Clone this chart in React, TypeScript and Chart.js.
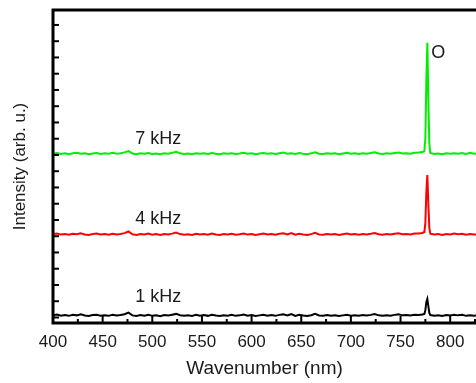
import React, { useEffect, useRef } from "react";
import { Chart, registerables } from "chart.js";

Chart.register(...registerables);

const wavelengths = [
  400, 404, 408, 412, 416, 420, 424, 428, 432, 436,
  440, 444, 448, 452, 456, 460, 464, 468, 472, 476,
  480, 484, 488, 492, 496, 500, 504, 508, 512, 516,
  520, 524, 528, 532, 536, 540, 544, 548, 552, 556,
  560, 564, 568, 572, 576, 580, 584, 588, 592, 596,
  600, 604, 608, 612, 616, 620, 624, 628, 632, 636,
  640, 644, 648, 652, 656, 660, 664, 668, 672, 676,
  680, 684, 688, 692, 696, 700, 704, 708, 712, 716,
  720, 724, 728, 732, 736, 740, 744, 748, 752, 756,
  760, 764, 768, 772,
  774, 775, 776, 777, 778, 779, 780,
  784, 788, 792, 796, 800, 804, 808, 812, 816, 820, 824, 828,
];

const intensity1kHz = [
  0.14, 0.18, 0.11, 0.15, 0.10, 0.16, 0.13, 0.19, 0.12, 0.09,
  0.15, 0.17, 0.11, 0.14, 0.10, 0.16, 0.12, 0.15, 0.20, 0.30,
  0.13, 0.09, 0.15, 0.11, 0.17, 0.10, 0.14, 0.08, 0.15, 0.12,
  0.17, 0.22, 0.14, 0.10, 0.13, 0.09, 0.16, 0.11, 0.15, 0.10,
  0.17, 0.12, 0.09, 0.14, 0.11, 0.16, 0.10, 0.13, 0.18, 0.11,
  0.15, 0.09, 0.13, 0.17, 0.11, 0.15, 0.10, 0.16, 0.19, 0.12,
  0.21, 0.10, 0.16, 0.12, 0.09, 0.14, 0.22, 0.12, 0.10, 0.15,
  0.11, 0.14, 0.09, 0.13, 0.17, 0.11, 0.14, 0.10, 0.15, 0.12,
  0.16, 0.21, 0.13, 0.10, 0.14, 0.11, 0.16, 0.19, 0.13, 0.15,
  0.12, 0.17, 0.16, 0.18,
  0.22, 0.45, 0.95, 1.14, 0.70, 0.28, 0.15,
  0.11, 0.14, 0.09, 0.15, 0.12, 0.17, 0.13, 0.16, 0.10, 0.14, 0.11, 0.13,
];

const intensity4kHz = [
  5.13, 5.17, 5.10, 5.14, 5.09, 5.15, 5.12, 5.18, 5.11, 5.08,
  5.14, 5.16, 5.10, 5.13, 5.09, 5.15, 5.11, 5.14, 5.19, 5.29,
  5.12, 5.08, 5.14, 5.10, 5.16, 5.09, 5.13, 5.07, 5.14, 5.11,
  5.16, 5.22, 5.13, 5.09, 5.12, 5.08, 5.15, 5.10, 5.14, 5.09,
  5.16, 5.11, 5.08, 5.13, 5.10, 5.15, 5.09, 5.12, 5.17, 5.10,
  5.14, 5.08, 5.12, 5.16, 5.10, 5.14, 5.09, 5.15, 5.18, 5.11,
  5.20, 5.09, 5.15, 5.11, 5.08, 5.13, 5.21, 5.11, 5.09, 5.14,
  5.10, 5.13, 5.08, 5.12, 5.16, 5.10, 5.13, 5.09, 5.14, 5.11,
  5.15, 5.20, 5.12, 5.09, 5.13, 5.10, 5.15, 5.18, 5.12, 5.14,
  5.11, 5.16, 5.17, 5.20,
  5.26, 5.8, 7.7, 8.77, 7.0, 5.5, 5.16,
  5.10, 5.13, 5.08, 5.14, 5.11, 5.16, 5.12, 5.15, 5.09, 5.13, 5.10, 5.12,
];

const intensity7kHz = [
  10.08, 10.12, 10.06, 10.10, 10.05, 10.11, 10.13, 10.07, 10.10, 10.04,
  10.09, 10.12, 10.06, 10.10, 10.08, 10.13, 10.07, 10.11, 10.16, 10.24,
  10.09, 10.05, 10.10, 10.07, 10.12, 10.06, 10.09, 10.04, 10.10, 10.08,
  10.13, 10.19, 10.10, 10.06, 10.09, 10.05, 10.11, 10.07, 10.10, 10.06,
  10.12, 10.08, 10.05, 10.10, 10.07, 10.11, 10.06, 10.09, 10.13, 10.07,
  10.10, 10.05, 10.09, 10.12, 10.07, 10.10, 10.06, 10.11, 10.15, 10.08,
  10.10, 10.06, 10.12, 10.08, 10.05, 10.10, 10.17, 10.08, 10.06, 10.11,
  10.07, 10.10, 10.05, 10.09, 10.13, 10.07, 10.10, 10.06, 10.11, 10.08,
  10.12, 10.17, 10.09, 10.06, 10.10, 10.07, 10.12, 10.15, 10.09, 10.11,
  10.08, 10.13, 10.15, 10.18,
  10.25, 11.0, 14.6, 16.9, 13.4, 10.7, 10.12,
  10.06, 10.09, 10.05, 10.10, 10.07, 10.11, 10.08, 10.12, 10.06, 10.13, 10.08, 10.10,
];

const seriesLabels = ["1 kHz", "4 kHz", "7 kHz"];
const seriesColors = ["#000000", "#ff0000", "#00ee00"];
// label anchor positions in data coordinates [wavelength, intensity]
const labelAnchors = [
  [506, 1.26],
  [506, 6.06],
  [506, 10.98],
];
const peakLabel = "O";
const peakLabelAnchor = [781, 16.28];

const xTickValues = [400, 450, 500, 550, 600, 650, 700, 750, 800];
const xMinorTickValues = [425, 475, 525, 575, 625, 675, 725, 775, 825];
const yTickValues = [0, 1, 2, 3, 4, 5, 6, 7, 8, 9, 10, 11, 12, 13, 14, 15, 16, 17, 18];

const FONT = "'Liberation Sans', Arial, sans-serif";

const framePlugin = {
  id: "frame",
  afterDraw(chart: any) {
    const { ctx, chartArea, scales } = chart;
    const { left, top, right, bottom } = chartArea;
    const x = scales.x;
    const y = scales.y;
    ctx.save();
    ctx.strokeStyle = "#000";
    ctx.lineCap = "butt";
    ctx.lineWidth = 2;
    for (const v of xTickValues) {
      const px = x.getPixelForValue(v);
      if (px > right) continue;
      ctx.beginPath();
      ctx.moveTo(px, bottom);
      ctx.lineTo(px, bottom - 7);
      ctx.stroke();
    }
    for (const v of xMinorTickValues) {
      const px = x.getPixelForValue(v);
      if (px > right) continue;
      ctx.beginPath();
      ctx.moveTo(px, bottom);
      ctx.lineTo(px, bottom - 4);
      ctx.stroke();
    }
    for (const v of yTickValues) {
      const py = y.getPixelForValue(v);
      ctx.beginPath();
      ctx.moveTo(left, py);
      ctx.lineTo(left + 6, py);
      ctx.stroke();
    }
    ctx.lineWidth = 3;
    ctx.lineCap = "square";
    ctx.beginPath();
    ctx.moveTo(right + 5, top);
    ctx.lineTo(left, top);
    ctx.lineTo(left, bottom);
    ctx.lineTo(right + 5, bottom);
    ctx.stroke();
    ctx.fillStyle = "#1a1a1a";
    ctx.font = `18px ${FONT}`;
    ctx.textAlign = "center";
    ctx.textBaseline = "middle";
    seriesLabels.forEach((t, i) => {
      const [lx, ly] = labelAnchors[i];
      ctx.fillText(t, x.getPixelForValue(lx), y.getPixelForValue(ly));
    });
    ctx.font = `18px ${FONT}`;
    ctx.textAlign = "left";
    ctx.fillText(peakLabel, x.getPixelForValue(peakLabelAnchor[0]), y.getPixelForValue(peakLabelAnchor[1]));
    ctx.restore();
  },
};

export default function App() {
  const ref = useRef<HTMLCanvasElement | null>(null);
  useEffect(() => {
    if (!ref.current) return;
    const series = [intensity1kHz, intensity4kHz, intensity7kHz];
    const chart = new Chart(ref.current, {
      type: "line",
      data: {
        datasets: series.map((vals, i) => ({
          label: seriesLabels[i],
          data: vals.map((v, j) => ({ x: wavelengths[j], y: v })),
          borderColor: seriesColors[i],
          backgroundColor: seriesColors[i],
          borderWidth: 2,
          pointRadius: 0,
          tension: 0,
          fill: false,
        })),
      },
      options: {
        responsive: false,
        animation: false,
        events: [],
        layout: { padding: { top: 10, left: 0, right: 0, bottom: 0 } },
        plugins: {
          legend: { display: false },
          tooltip: { enabled: false },
          title: { display: false },
        },
        scales: {
          x: {
            type: "linear",
            min: 400,
            max: 826,
            afterFit: (s: any) => {
              s.height = 60;
              s.paddingLeft = 0;
              s.paddingRight = 0;
            },
            grid: { display: false, drawTicks: false },
            border: { display: false },
            ticks: {
              stepSize: 50,
              includeBounds: false,
              padding: 9,
              color: "#1a1a1a",
              font: { family: FONT, size: 17 },
              callback: (v: any) => (xTickValues.includes(Number(v)) ? String(v) : ""),
              maxRotation: 0,
              autoSkip: false,
            },
            title: {
              display: true,
              text: "Wavenumber (nm)",
              color: "#1a1a1a",
              font: { family: FONT, size: 19 },
              padding: { top: 0, bottom: 3 },
            },
          },
          y: {
            type: "linear",
            min: -0.34,
            max: 18.92,
            afterFit: (s: any) => {
              s.width = 53;
            },
            grid: { display: false, drawTicks: false },
            border: { display: false },
            ticks: { display: false, stepSize: 1, includeBounds: false },
            title: {
              display: true,
              text: "Intensity (arb. u.)",
              color: "#1a1a1a",
              font: { family: FONT, size: 17 },
              padding: { top: 10, bottom: 0 },
            },
          },
        },
      },
      plugins: [framePlugin],
    });
    return () => chart.destroy();
  }, []);
  return (
    <div style={{ position: "absolute", left: 0, top: 0, width: 476, height: 383, overflow: "hidden", background: "#fff" }}>
      <canvas ref={ref} width={476} height={383} />
    </div>
  );
}
